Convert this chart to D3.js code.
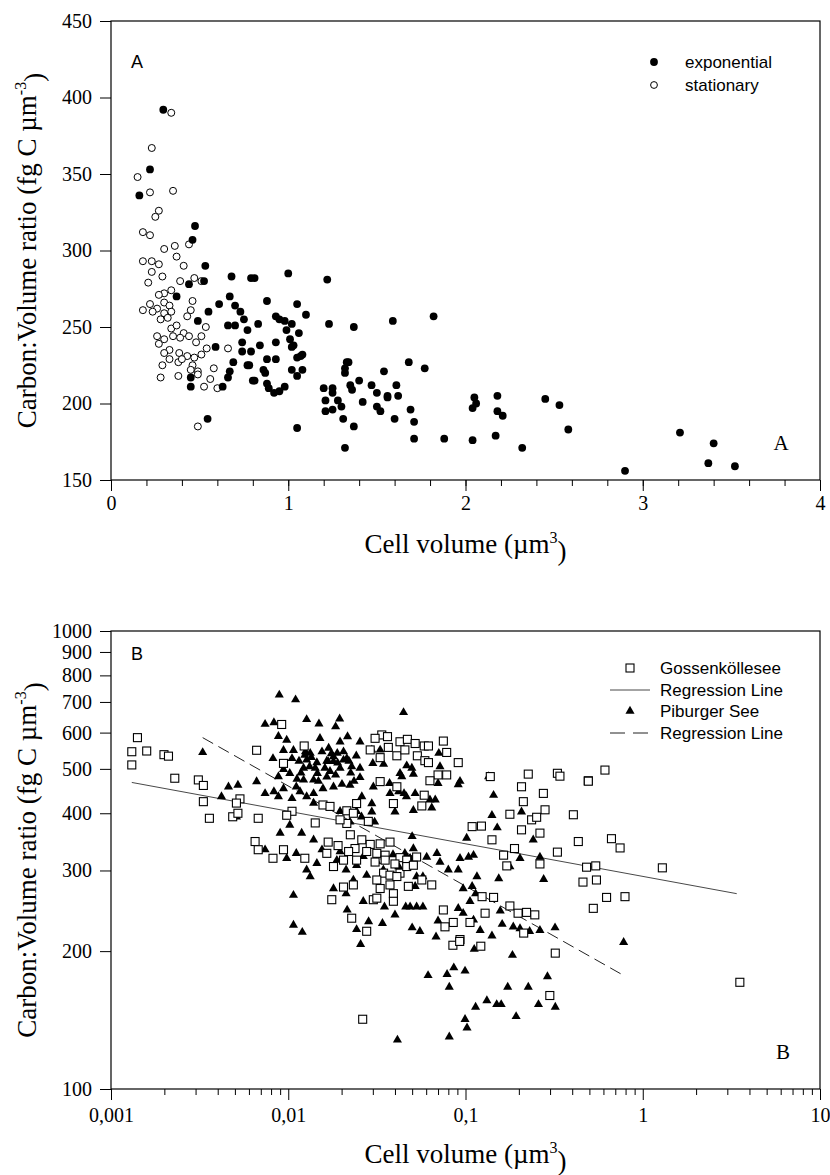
<!DOCTYPE html>
<html>
<head>
<meta charset="utf-8">
<script src="https://cdn.jsdelivr.net/npm/d3@7"></script>
<style>
  body { margin: 0; background: #fff; }
</style>
</head>
<body>
<svg id="chart" width="830" height="1175"></svg>
<script>
// ---- Panel A data: cell volume (um3), carbon:volume ratio ----
var exponential = [
  [0.295,392],[0.22,353],[0.16,336],[0.474,316],[0.46,307],[0.532,290],[0.68,283],[0.79,282],[0.81,282],
  [1.00,285],[0.525,280],[0.44,278],[0.37,270],[0.61,265],[0.67,270],[0.55,260],[0.88,267],[1.05,265],
  [1.10,258],[0.70,264],[0.73,260],[0.75,255],[0.49,254],[0.66,251],[0.70,251],[0.77,248],[0.83,252],
  [0.93,257],[0.95,255],[0.98,254],[1.02,252],[0.99,248],[1.06,246],[0.59,237],[0.74,240],[0.74,234],
  [0.79,234],[0.84,238],[0.93,240],[1.01,242],[1.02,237],[1.07,231],[1.05,230],[1.08,232],[0.88,229],
  [0.93,229],[0.77,225],[0.78,225],[0.69,227],[0.67,221],[0.66,217],[0.86,222],[0.87,220],[0.80,215],
  [0.81,215],[0.88,213],[0.89,210],[0.92,207],[0.95,208],[0.98,211],[1.02,222],[1.05,218],[1.08,222],
  [0.45,217],[0.45,211],[0.63,211],[0.545,190],[1.05,184],[1.03,238],
  [1.22,281],[1.23,252],[1.37,250],[1.59,254],[1.82,257],[1.33,227],[1.34,227],[1.32,223],[1.32,220],
  [1.40,215],[1.54,221],[1.68,227],[1.77,223],[1.20,210],[1.25,210],[1.25,207],[1.21,202],[1.28,202],
  [1.30,198],[1.21,195],[1.25,196],[1.35,212],[1.36,209],[1.42,201],[1.47,212],[1.50,207],[1.56,205],
  [1.56,204],[1.61,212],[1.62,205],[1.50,198],[1.52,195],[1.31,190],[1.37,185],[1.60,190],[1.69,196],
  [1.71,188],[1.32,171],[1.71,177],[1.88,177],[2.04,176],[2.05,204],[2.04,197],[2.06,200],[2.18,205],
  [2.18,195],[2.21,192],[2.17,179],[2.32,171],[2.45,203],[2.53,199],[2.58,183],[2.90,156],[3.21,181],
  [3.40,174],[3.37,161],[3.52,159]
];
var stationary = [
  [0.34,390],[0.23,367],[0.15,348],[0.22,338],[0.35,339],[0.27,326],[0.25,322],[0.18,312],[0.22,310],
  [0.30,301],[0.36,303],[0.44,304],[0.37,296],[0.18,293],[0.23,293],[0.27,291],[0.41,290],[0.23,286],
  [0.29,283],[0.47,282],[0.51,280],[0.39,280],[0.21,279],[0.34,274],[0.30,272],[0.27,271],[0.46,267],
  [0.22,265],[0.26,262],[0.30,266],[0.33,264],[0.34,260],[0.30,259],[0.18,261],[0.235,260],[0.28,255],
  [0.32,256],[0.45,261],[0.43,257],[0.535,250],[0.34,249],[0.37,251],[0.41,246],[0.44,244],[0.39,243],
  [0.26,244],[0.30,242],[0.27,239],[0.35,244],[0.51,244],[0.48,240],[0.54,236],[0.51,232],[0.47,230],
  [0.43,231],[0.385,233],[0.33,235],[0.30,233],[0.33,229],[0.29,225],[0.38,227],[0.40,229],[0.46,225],
  [0.49,221],[0.45,222],[0.58,223],[0.49,219],[0.38,218],[0.28,217],[0.525,211],[0.56,216],[0.60,210],
  [0.66,236],[0.49,185]
];
var ticksAx = [0, 1, 2, 3, 4];
var ticksAy = [150, 200, 250, 300, 350, 400, 450];

// ---- Panel B data ----
var gossen = [
  [0.00141,585],[0.00131,545],[0.00159,547],[0.00131,510],[0.00199,537],[0.00211,533],[0.00229,477],
  [0.00311,473],[0.00332,460],[0.00332,424],[0.00359,390],[0.00534,430],[0.0051,421],[0.00486,393],
  [0.0052,400],[0.00677,390],[0.00663,549],[0.00918,625],[0.0094,514],[0.0065,347],[0.00677,333],
  [0.0082,319],[0.0094,333],[0.0105,404],[0.0098,396],
  [0.0337,593],[0.0363,588],[0.0309,583],[0.0427,573],[0.047,580],[0.052,568],[0.0585,561],[0.0618,561],
  [0.075,575],[0.0783,543],[0.033,529],[0.041,534],[0.0455,550],[0.0535,534],[0.059,521],[0.0618,516],
  [0.029,550],[0.0367,557],[0.091,516],[0.070,485],[0.0783,485],[0.063,471],[0.033,469],[0.041,457],
  [0.0392,420],[0.0567,415],[0.0585,438],[0.0123,561],[0.138,481],[0.226,487],[0.33,489],[0.341,482],
  [0.493,471],[0.207,457],[0.275,442],[0.212,424],[0.178,398],[0.281,407],[0.236,387],[0.252,392],
  [0.406,397],[0.109,374],[0.123,375],[0.141,350],[0.207,368],[0.263,362],[0.433,347],[0.164,324],
  [0.189,335],[0.33,329],[0.263,310],[0.171,307],[0.482,305],[0.543,307],[0.46,283],[0.548,286],
  [0.526,248],[0.144,262],[0.178,251],[0.198,242],[0.221,243],[0.246,240],[0.129,242],[0.075,246],
  [0.0853,231],[0.0766,226],[0.106,231],
  [0.0157,417],[0.0172,414],[0.0214,405],[0.0243,420],[0.0233,400],[0.0283,384],[0.0214,380],[0.0196,387],
  [0.0142,381],[0.0224,359],[0.026,350],[0.029,342],[0.033,343],[0.0375,346],[0.0168,346],[0.0165,327],
  [0.0191,340],[0.0238,335],[0.0219,330],[0.0277,330],[0.0316,327],[0.0352,324],[0.0427,320],[0.0466,316],
  [0.053,321],[0.0205,316],[0.0124,319],[0.018,306],[0.0243,316],[0.0309,313],[0.0352,316],[0.040,310],
  [0.0345,296],[0.0427,296],[0.0466,306],[0.0508,308],[0.0316,286],[0.0375,293],[0.041,291],[0.0645,279],
  [0.0205,276],[0.0233,279],[0.033,274],[0.0375,279],[0.0476,277],[0.0392,267],[0.0302,259],[0.0316,261],
  [0.0392,257],[0.0176,259],[0.0228,236],[0.0277,221],[0.0567,286],[0.124,263],[0.0931,212],
  [0.0849,206],[0.0927,210],[0.122,205],[0.0263,142],[0.321,198],[0.299,160],[3.53,171],[0.213,219],
  [0.612,497],[0.493,470],[0.666,352],[0.745,336],[1.29,304],[0.625,262],[0.794,263]
];
var piburger = [
  [0.0089,725],[0.0110,708],[0.0074,626],[0.0083,631],[0.00329,543],[0.0088,589],[0.0098,578],[0.0107,549],
  [0.0094,549],[0.0105,527],[0.0082,527],[0.0094,499],[0.0102,489],[0.0088,481],[0.0111,457],[0.00663,469],
  [0.0074,442],[0.0083,446],[0.0094,453],[0.0046,457],[0.0052,461],[0.0042,435],[0.0051,393],[0.0088,435],
  [0.0105,431],[0.0102,377],[0.009,362],[0.0111,327],[0.0074,333],[0.0098,319],[0.0107,265],[0.0107,228],
  [0.0133,541],[0.0127,523],[0.0145,516],[0.030,514],[0.0223,461],[0.0139,421],[0.0223,383],[0.0259,393],
  [0.0307,383],[0.0196,404],[0.0243,404],
  [0.0115,520],[0.0125,545],[0.0135,530],[0.0155,545],[0.0165,520],[0.0175,540],[0.019,515],[0.0205,545],
  [0.022,520],[0.0118,490],[0.0148,470],[0.0165,480],[0.0112,475],[0.0225,490],[0.0235,470],
  [0.0119,362],[0.0139,350],[0.0155,333],[0.0127,301],[0.0133,291],[0.0145,311],[0.0188,316],[0.0196,330],
  [0.0212,301],[0.0243,308],[0.0265,322],[0.0233,286],[0.0277,293],[0.0315,314],[0.0344,301],[0.039,325],
  [0.042,306],[0.018,274],[0.0212,267],[0.0265,257],[0.0349,250],[0.0215,246],[0.0284,232],[0.034,230],
  [0.040,240],[0.046,250],[0.0120,220],[0.0243,223],
  [0.0447,664],[0.0127,641],[0.0149,627],[0.0195,643],[0.0185,618],[0.0151,583],[0.0216,588],[0.0254,573],
  [0.0169,555],[0.0189,541],[0.018,532],[0.0205,523],[0.0214,527],[0.0242,534],[0.0254,502],[0.0254,479],
  [0.0124,536],[0.0122,502],[0.0132,506],[0.0142,502],[0.0146,489],[0.0161,502],[0.0172,494],[0.0185,485],
  [0.0196,502],[0.0122,473],[0.0139,473],[0.0157,453],[0.018,457],[0.0201,463],[0.01165,446],[0.0139,442],
  [0.0127,435],[0.0296,550],[0.033,550],[0.0345,512],[0.0302,457],[0.0373,465],[0.0427,489],[0.0437,481],
  [0.0466,508],[0.0498,502],[0.0508,487],[0.0707,541],[0.0718,506],[0.070,465],[0.0931,470],[0.091,462],
  [0.135,481],[0.144,438],[0.0375,442],[0.042,446],[0.045,442],[0.0464,435],[0.052,442],[0.063,428],
  [0.0675,428],[0.0645,411],[0.0508,406],[0.040,403],[0.026,435],[0.0296,420],[0.0296,403],[0.141,396],
  [0.151,372],[0.1015,353],[0.207,403],[0.241,350],[0.050,356],[0.0508,335],[0.0455,327],[0.0487,319],
  [0.0604,321],[0.069,327],[0.0718,313],[0.0931,319],[0.104,321],[0.111,324],[0.080,301],[0.091,301],
  [0.178,306],[0.203,319],[0.263,321],[0.116,291],[0.154,288],[0.276,287],[0.053,291],[0.0575,291],
  [0.052,277],[0.097,274],[0.109,277],[0.114,267],[0.106,257],[0.0487,250],[0.053,250],[0.0575,250],
  [0.050,225],[0.0553,221],[0.0682,215],[0.091,248],[0.097,242],[0.070,233],[0.111,234],[0.121,222],
  [0.141,216],[0.157,245],[0.161,229],[0.186,226],[0.203,224],[0.23,221],[0.263,222],[0.32,225],
  [0.0196,573],[0.0168,519],[0.018,519],[0.0228,506],
  [0.0256,207],[0.78,209],[0.0615,177],[0.0787,178],[0.0859,184],[0.0994,181],[0.081,167],[0.184,196],
  [0.290,176],[0.173,167],[0.226,167],[0.132,156],[0.114,151],[0.150,153],[0.159,153],[0.258,153],
  [0.321,151],[0.193,144],[0.0994,142],[0.102,136],[0.0413,128],[0.081,130],[0.112,202]
];
var gossenLine = [[0.00131, 467], [3.39, 267]];
var piburgerLine = [[0.00329, 585], [0.78, 177]];
var ticksBx = [0.001, 0.01, 0.1, 1, 10];
var labelsBx = ["0,001", "0,01", "0,1", "1", "10"];
var ticksBy = [100, 200, 300, 400, 500, 600, 700, 800, 900, 1000];

var svg = d3.select("#chart");
var left = 111, right = 820;
var serif = "Liberation Serif, Times New Roman, serif";
var sans = "Liberation Sans, Arial, sans-serif";

function styleAxis(g, size) {
    g.select(".domain").remove();
    g.attr("font-family", serif).attr("font-size", size);
    g.selectAll(".tick line").attr("stroke", "#000");
    g.selectAll(".tick text").attr("fill", "#000");
}

// ------ Panel A ------
var aTop = 21, aBottom = 480;
var xA = d3.scaleLinear().domain([0, 4]).range([left, right]);
var yA = d3.scaleLinear().domain([150, 450]).range([aBottom, aTop]);

svg.append("rect")
    .attr("x", left).attr("y", aTop)
    .attr("width", right - left).attr("height", aBottom - aTop)
    .attr("fill", "none").attr("stroke", "#000").attr("stroke-width", 1.2);

svg.append("g")
    .attr("transform", "translate(0," + aBottom + ")")
    .call(d3.axisBottom(xA).tickValues(d3.range(0.2, 4, 0.2)).tickSize(6).tickFormat(""))
    .call(styleAxis, 20);
svg.append("g")
    .attr("transform", "translate(0," + aBottom + ")")
    .call(d3.axisBottom(xA).tickValues(ticksAx).tickSize(11).tickPadding(5).tickFormat(d3.format("d")))
    .call(styleAxis, 20);
svg.append("g")
    .attr("transform", "translate(" + left + ",0)")
    .call(d3.axisLeft(yA).tickValues(ticksAy).tickSize(11).tickPadding(8))
    .call(styleAxis, 20);

svg.append("g").selectAll("circle")
    .data(stationary)
    .enter().append("circle")
    .attr("cx", function(d) { return xA(d[0]); })
    .attr("cy", function(d) { return yA(d[1]); })
    .attr("r", 3.5)
    .attr("fill", "#fff").attr("stroke", "#000").attr("stroke-width", 1);

svg.append("g").selectAll("circle")
    .data(exponential)
    .enter().append("circle")
    .attr("cx", function(d) { return xA(d[0]); })
    .attr("cy", function(d) { return yA(d[1]); })
    .attr("r", 3.9)
    .attr("fill", "#000");

// labels A
svg.append("text").attr("x", 131).attr("y", 68)
    .attr("font-family", sans).attr("font-size", 18).text("A");
svg.append("text").attr("x", 781).attr("y", 450).attr("text-anchor", "middle")
    .attr("font-family", serif).attr("font-size", 21).text("A");

// legend A
svg.append("circle").attr("cx", 654).attr("cy", 62).attr("r", 3.9).attr("fill", "#000");
svg.append("circle").attr("cx", 654).attr("cy", 85).attr("r", 3.4)
    .attr("fill", "#fff").attr("stroke", "#000");
svg.append("text").attr("x", 685).attr("y", 68)
    .attr("font-family", sans).attr("font-size", 17).text("exponential");
svg.append("text").attr("x", 685).attr("y", 91)
    .attr("font-family", sans).attr("font-size", 17).text("stationary");

function yTitle(cy) {
    var t = svg.append("text")
        .attr("transform", "translate(36," + cy + ") rotate(-90)")
        .attr("text-anchor", "middle")
        .attr("font-family", serif).attr("font-size", 27);
    t.append("tspan").text("Carbon:Volume ratio (fg C \u00b5m");
    t.append("tspan").attr("dy", "-0.6em").attr("font-size", 16).text("-3");
    t.append("tspan").attr("dy", "0.6em").text(")");
}
function xTitle(y) {
    var t = svg.append("text")
        .attr("x", (left + right) / 2).attr("y", y)
        .attr("text-anchor", "middle")
        .attr("font-family", serif).attr("font-size", 27);
    t.append("tspan").text("Cell volume (\u00b5m");
    t.append("tspan").attr("dy", "-0.6em").attr("font-size", 16).text("3");
    t.append("tspan").attr("dy", "0.6em").text(")");
}
yTitle((aTop + aBottom) / 2);
xTitle(553);

// ------ Panel B ------
var bTop = 631, bBottom = 1089;
var xB = d3.scaleLog().domain([0.001, 10]).range([left, right]);
var yB = d3.scaleLog().domain([100, 1000]).range([bBottom, bTop]);

svg.append("rect")
    .attr("x", left).attr("y", bTop)
    .attr("width", right - left).attr("height", bBottom - bTop)
    .attr("fill", "none").attr("stroke", "#000").attr("stroke-width", 1.2);

var minorB = [];
[0.001, 0.01, 0.1, 1].forEach(function(dec) {
    for (var k = 2; k < 10; k++) minorB.push(dec * k);
});
svg.append("g")
    .attr("transform", "translate(0," + bBottom + ")")
    .call(d3.axisBottom(xB).tickValues(minorB).tickSize(6).tickFormat(""))
    .call(styleAxis, 20);
svg.append("g")
    .attr("transform", "translate(0," + bBottom + ")")
    .call(d3.axisBottom(xB).tickValues(ticksBx).tickSize(11).tickPadding(8)
        .tickFormat(function(d, i) { return labelsBx[i]; }))
    .call(styleAxis, 20);
svg.append("g")
    .attr("transform", "translate(" + left + ",0)")
    .call(d3.axisLeft(yB).tickValues(ticksBy).tickSize(11).tickPadding(8).tickFormat(d3.format("d")))
    .call(styleAxis, 20);

// regression lines
var line = d3.line().x(function(d) { return xB(d[0]); }).y(function(d) { return yB(d[1]); });
svg.append("path").datum(gossenLine).attr("d", line)
    .attr("fill", "none").attr("stroke", "#333").attr("stroke-width", 0.9);
svg.append("path").datum(piburgerLine).attr("d", line)
    .attr("fill", "none").attr("stroke", "#222").attr("stroke-width", 1).attr("stroke-dasharray", "12,6");

var tri = d3.symbol().type(d3.symbolTriangle).size(36);
svg.append("g").selectAll("path")
    .data(piburger)
    .enter().append("path")
    .attr("d", tri)
    .attr("transform", function(d) { return "translate(" + xB(d[0]) + "," + yB(d[1]) + ")"; })
    .attr("fill", "#000");

svg.append("g").selectAll("rect")
    .data(gossen)
    .enter().append("rect")
    .attr("x", function(d) { return xB(d[0]) - 4; })
    .attr("y", function(d) { return yB(d[1]) - 4; })
    .attr("width", 8).attr("height", 8)
    .attr("fill", "#fff").attr("stroke", "#000").attr("stroke-width", 1.1);

// labels B
svg.append("text").attr("x", 131).attr("y", 660)
    .attr("font-family", sans).attr("font-size", 18).text("B");
svg.append("text").attr("x", 783).attr("y", 1059).attr("text-anchor", "middle")
    .attr("font-family", serif).attr("font-size", 21).text("B");

// legend B
svg.append("rect").attr("x", 626).attr("y", 664).attr("width", 8).attr("height", 8)
    .attr("fill", "#fff").attr("stroke", "#000").attr("stroke-width", 1.1);
svg.append("line").attr("x1", 610).attr("x2", 650).attr("y1", 690).attr("y2", 690)
    .attr("stroke", "#333").attr("stroke-width", 0.9);
svg.append("path").attr("d", tri).attr("transform", "translate(630,711)").attr("fill", "#000");
svg.append("line").attr("x1", 610).attr("x2", 650).attr("y1", 733).attr("y2", 733)
    .attr("stroke", "#222").attr("stroke-width", 1).attr("stroke-dasharray", "15,8");
var legB = ["Gossenk\u00f6llesee", "Regression Line", "Piburger See", "Regression Line"];
svg.append("g").selectAll("text")
    .data(legB)
    .enter().append("text")
    .attr("x", 660)
    .attr("y", function(d, i) { return [674, 696, 717, 739][i]; })
    .attr("font-family", sans).attr("font-size", 17)
    .text(function(d) { return d; });

yTitle((bTop + bBottom) / 2);
xTitle(1163);
</script>
</body>
</html>
